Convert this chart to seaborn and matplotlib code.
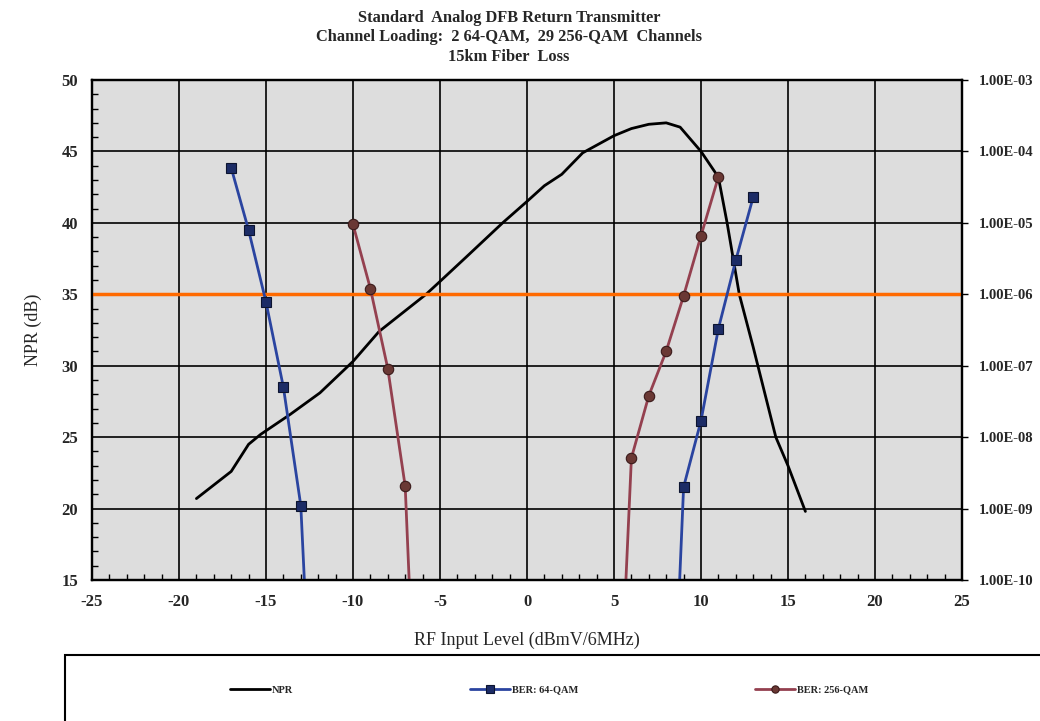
import numpy as np
import pandas as pd
import matplotlib
matplotlib.use("Agg")
import matplotlib.pyplot as plt
import seaborn as sns
from matplotlib.ticker import MultipleLocator, FixedLocator, NullLocator, FuncFormatter
from matplotlib.patches import Rectangle

# ---------------- data ----------------
npr_x = [-19, -17, -16, -15.3, -13.6, -11.9, -10, -8.5, -5.8, -5, -3.5, -1.4, 0, 1, 2,
         3.2, 5, 6, 7, 8, 8.8, 10, 11, 11.5, 12.2, 13, 14.3, 15, 16]
npr_y = [20.7, 22.6, 24.5, 25.2, 26.6, 28.1, 30.3, 32.4, 35.0, 35.9, 37.6, 40.0, 41.5, 42.6, 43.4,
         44.9, 46.1, 46.6, 46.9, 47.0, 46.7, 45.0, 43.2, 40.0, 35.0, 31.3, 25.0, 23.0, 19.8]

qam64_x = [-17, -16, -15, -14, -13, -12.6, 8.6, 9, 10, 11, 12, 13]
qam64_ber = [5.9e-5, 7.9e-6, 7.8e-7, 5.0e-8, 1.1e-9, 1e-11, 1e-11, 2.0e-9, 1.7e-8, 3.3e-7, 3.0e-6, 2.3e-5]

qam256_x = [-10, -9, -8, -7, -6.6, 5.5, 6, 7, 8, 9, 10, 11]
qam256_ber = [9.5e-6, 1.2e-6, 9.1e-8, 2.05e-9, 1e-11, 1e-11, 5.1e-9, 3.8e-8, 1.6e-7, 9.5e-7, 6.6e-6, 4.4e-5]

ber_threshold = 1e-6

x_ticks = [-25, -20, -15, -10, -5, 0, 5, 10, 15, 20, 25]
y_ticks = [15, 20, 25, 30, 35, 40, 45, 50]
ber_ticks = [1e-10, 1e-9, 1e-8, 1e-7, 1e-6, 1e-5, 1e-4, 1e-3]

title_lines = ["Standard  Analog DFB Return Transmitter",
               "Channel Loading:  2 64-QAM,  29 256-QAM  Channels",
               "15km Fiber  Loss"]

# ---------------- style ----------------
sns.set_style("ticks")
plt.rcParams['font.family'] = ['Liberation Serif', 'DejaVu Serif']

fig = plt.figure(figsize=(10.4, 7.21), dpi=100)
ax = fig.add_axes([92/1040, 1-580/721, (962-92)/1040, (580-80)/721])
ax.set_facecolor('#dddddd')
ax2 = ax.twinx()

df_npr = pd.DataFrame({'x': npr_x, 'y': npr_y})
df64 = pd.DataFrame({'x': qam64_x, 'ber': qam64_ber})
df256 = pd.DataFrame({'x': qam256_x, 'ber': qam256_ber})

sns.lineplot(data=df_npr, x='x', y='y', ax=ax, sort=False, color='black', lw=2.0, label='NPR')

ax2.set_yscale('log')
sns.lineplot(data=df64, x='x', y='ber', ax=ax2, sort=False, color='#2a44a0', lw=2.0,
             marker='s', markersize=7.5, markerfacecolor='#1c2c66', markeredgecolor='#0c1430',
             markeredgewidth=0.8, label='BER: 64-QAM')
sns.lineplot(data=df256, x='x', y='ber', ax=ax2, sort=False, color='#94404f', lw=2.0,
             marker='o', markersize=7.5, markerfacecolor='#6a3834', markeredgecolor='#3a1a1a',
             markeredgewidth=0.8, label='BER: 256-QAM')
ax2.axhline(ber_threshold, color='#ff6a00', lw=2.5, zorder=1)

# axes ranges
ax.set_xlim(-25, 25)
ax.set_ylim(15, 50)
ax2.set_ylim(1e-10, 1e-3)

# grid
ax.set_xticks(x_ticks)
ax.set_yticks(y_ticks)
ax.xaxis.set_minor_locator(MultipleLocator(1))
ax.yaxis.set_minor_locator(MultipleLocator(1))
ax.grid(True, which='major', color='black', lw=1.2)
ax.set_axisbelow(True)

tick_font = dict(fontsize=12, fontweight='bold')
ax.set_xticklabels([str(t) for t in x_ticks], **tick_font)
ax.set_yticklabels([str(t) for t in y_ticks], **tick_font)
ax.tick_params(axis='both', which='major', direction='in', length=0, pad=10)
ax.tick_params(axis='both', which='minor', direction='in', length=4, width=1, color='black')

ax2.yaxis.set_major_locator(FixedLocator(ber_ticks))
ax2.yaxis.set_minor_locator(NullLocator())
ax2.yaxis.set_major_formatter(FuncFormatter(lambda v, p: "1.00E-%02d" % round(-np.log10(v))))
for lab in ax2.get_yticklabels():
    lab.set_fontweight('bold')
ax2.tick_params(axis='y', which='major', direction='out', length=4, width=1, color='black',
                labelsize=10.5, pad=8)
ax2.set_ylabel('')

for a in (ax, ax2):
    for s in a.spines.values():
        s.set_color('black')
        s.set_linewidth(1.6)

ax.set_xlabel('RF Input Level (dBmV/6MHz)', fontsize=13, labelpad=16)
ax.set_ylabel('NPR (dB)', fontsize=13, labelpad=14)

ax.set_title("\n".join(title_lines), fontsize=11.8, fontweight='bold', linespacing=1.28,
             pad=14, x=(509 - 92) / 870)

# legend
h1, l1 = ax.get_legend_handles_labels()
h2, l2 = ax2.get_legend_handles_labels()
if ax.get_legend():
    ax.get_legend().remove()
if ax2.get_legend():
    ax2.get_legend().remove()
leg = fig.legend(h1 + h2, l1 + l2, loc='center', bbox_to_anchor=(0.528, 0.043), ncol=3,
                 frameon=False, columnspacing=17, handlelength=3.8, handletextpad=0.2,
                 markerscale=0.7,
                 prop={'family': 'Liberation Serif', 'size': 7.5, 'weight': 'bold'})
fig.patches.append(Rectangle((65/1040, -0.02), 1.0, 1 - 655/721 + 0.02, transform=fig.transFigure,
                             fill=False, edgecolor='black', lw=1.5))

fig.savefig('out.png', dpi=100)
